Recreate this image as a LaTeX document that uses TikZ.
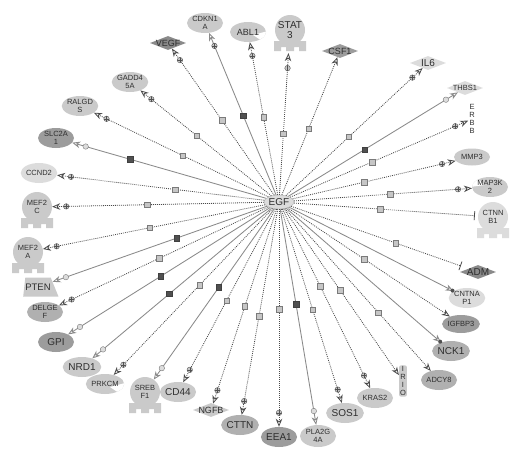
\documentclass[tikz,border=0pt]{standalone}
\usepackage{fontspec}
\setmainfont{Liberation Sans}
\usetikzlibrary{arrows.meta, shapes.geometric, calc, decorations.markings}
\definecolor{genepale}{HTML}{DCDCDC}
\definecolor{genelight}{HTML}{CACACA}
\definecolor{genemid}{HTML}{B0B0B0}
\definecolor{genedark}{HTML}{9C9C9C}
\definecolor{genedeep}{HTML}{8A8A8A}
\definecolor{labeltext}{HTML}{2E2E2E}
\definecolor{solidgray}{HTML}{8A8A8A}
\definecolor{dotgray}{HTML}{4A4A4A}
\definecolor{markdark}{HTML}{505050}
\definecolor{marklight}{HTML}{C6C6C6}
\definecolor{markline}{HTML}{7A7A7A}
\newcommand{\genebig}{\fontsize{10}{10.5}\selectfont}
\newcommand{\genemidfont}{\fontsize{9}{10}\selectfont}
\newcommand{\genesmall}{\fontsize{7.5}{8.3}\selectfont}
\newcommand{\dmtext}[1]{\makebox[0pt]{\raisebox{-0.5\height}[0pt][0pt]{#1}}}

\begin{document}
\begin{tikzpicture}[
    x=1pt, y=-1pt,
    >={Stealth[open, length=8pt, width=6.5pt, inset=2.5pt]},
    every node/.style={text=labeltext},
    gene/.style={ellipse, fill=#1, minimum width=36pt, minimum height=20pt,
        inner sep=0pt, align=center, font=\genesmall},
    gene/.default=genelight,
    kinase/.style={gene=#1, path picture={\fill[white]
        ($(path picture bounding box.center)+(5,3)$) -- ++(15,-4) -- ++(0,14) -- cycle;}},
    kinaseflip/.style={gene=#1, path picture={\fill[white]
        ($(path picture bounding box.center)+(-5,-2)$) -- ++(-15,2) -- ++(0,-14) -- cycle;}},
    ligand/.style={diamond, fill=#1, minimum width=36pt, minimum height=14pt,
        inner sep=0pt, font=\genemidfont},
    tfreg/.style={circle, fill=#1, minimum size=30pt, inner sep=0pt,
        align=center, font=\genesmall},
    phos/.style={trapezium, trapezium left angle=72, trapezium right angle=40,
        trapezium stretches=true, fill=#1, minimum height=19pt,
        inner sep=0pt, font=\fontsize{9.5}{10}\selectfont},
    vlabel/.style={rectangle, inner sep=1pt, align=center, font=\fontsize{7.5}{8}\selectfont},
    hub/.style={ellipse, fill=genepale, draw=markline!60, line width=0.4pt,
        minimum width=30pt, minimum height=14pt, inner sep=0pt, font=\genebig},
    solidedge/.style={->, solidgray, line width=0.85pt},
    dotedge/.style={->, dotgray, line width=0.8pt, dash pattern=on 0.9pt off 1.1pt},
    inhib/.style={-{Bar[width=9pt, line width=0.8pt]}},
    sqlight/.style={rectangle, solid, draw=markline, fill=marklight, line width=0.4pt,
        minimum size=5.5pt, inner sep=0pt},
    sqdark/.style={sqlight, fill=markdark, draw=markdark!80!black},
    plusmark/.style={circle, solid, draw=markdark, fill=marklight, line width=0.4pt,
        minimum size=5.5pt, inner sep=0pt, path picture={\draw[-, solid, markdark, line width=0.35pt]
        (path picture bounding box.north) -- (path picture bounding box.south)
        (path picture bounding box.west) -- (path picture bounding box.east);}},
    ringmark/.style={circle, solid, draw=markline, fill=genepale, line width=0.4pt,
        minimum size=5.5pt, inner sep=0pt},
    dotmark/.style={circle, solid, fill=markdark, minimum size=4pt, inner sep=0pt},
    plusend/.style={postaction={decorate, decoration={markings,
        mark=at position -#1 with {\node[plusmark] {};}}}},
    plusend/.default=14pt,
    ringend/.style={postaction={decorate, decoration={markings,
        mark=at position -14pt with {\node[ringmark] {};}}}},
    dotend/.style={postaction={decorate, decoration={markings,
        mark=at position -1pt with {\node[dotmark] {};}}}},
]
\path[use as bounding box, fill=white] (0,0) rectangle (520,458);

% === Hub ===
\node[hub] (egf) at (279,202) {EGF};

% === Upper arc ===
\node[gene] (cdkn1a) at (205,23) {CDKN1\\A};
\node[ligand=genedeep] (vegf) at (168,43) {\dmtext{VEGF}};
\node[kinase=genelight, font=\genemidfont] (abl1) at (248,32) {ABL1};
\node[tfreg=genelight, font=\genebig] (stat3) at (290,30) {STAT\\3};
\node[ligand=genedark] (csf1) at (340,51) {\dmtext{CSF1}};
\node[ligand=genepale, font=\genebig] (il6) at (428,63) {\dmtext{IL6}};
\node[ligand=genepale, font=\genesmall] (thbs1) at (465,88) {\dmtext{THBS1}};
\node[gene] (gadd45a) at (130,82) {GADD4\\5A};
\node[gene] (ralgds) at (80,106) {RALGD\\S};

% === Right side ===
\node[vlabel] (erbb) at (472,119) {E\\R\\B\\B};
\node[gene, minimum height=17pt] (mmp3) at (472,157) {MMP3};
\node[kinaseflip=genelight] (map3k2) at (490,187) {MAP3K\\2};
\node[tfreg=genepale] (ctnnb1) at (493,217) {CTNN\\B1};
\node[ligand=genedeep, font=\genebig] (adm) at (478,272) {\dmtext{ADM}};
\node[gene=genepale] (cntnap1) at (467,298) {CNTNA\\P1};
\node[gene=genedark, minimum height=18pt] (igfbp3) at (461,324) {IGFBP3};
\node[gene=genemid, font=\genebig] (nck1) at (451,351) {NCK1};
\node[gene=genemid] (adcy8) at (439,380) {ADCY8};

% === Lower arc ===
\node[vlabel, fill=genelight, rounded corners=2pt] (irio) at (403,381) {I\\R\\I\\O};
\node[gene] (kras2) at (375,398) {KRAS2};
\node[gene, font=\genebig] (sos1) at (345,413) {SOS1};
\node[gene, minimum height=22pt] (pla2g4a) at (318,436) {PLA2G\\4A};
\node[gene=genedark, font=\genebig] (eea1) at (279,437) {EEA1};
\node[gene=genemid, font=\genebig] (cttn) at (240,425) {CTTN};
\node[ligand=genelight] (ngfb) at (211,410) {\dmtext{NGFB}};
\node[gene, font=\genebig] (cd44) at (178,392) {CD44};
\node[tfreg=genelight] (srebf1) at (145,392) {SREB\\F1};
\node[gene, font=\genebig] (nrd1) at (82,367) {NRD1};
\node[kinase=genelight] (prkcm) at (105,384) {PRKCM};

% === Left side ===
\node[gene=genedark, font=\genebig] (gpi) at (56,342) {GPI};
\node[gene=genemid] (delgef) at (45,312) {DELGE\\F};
\node[phos=genelight] (pten) at (38,287) {PTEN};
\node[tfreg=genelight] (mef2a) at (28,252) {MEF2\\A};
\node[tfreg=genelight] (mef2c) at (37,207) {MEF2\\C};
\node[gene=genepale] (ccnd2) at (39,173) {CCND2};
\node[gene=genedark] (slc2a1) at (56,138) {SLC2A\\1};

% feet of the transcription regulators
\foreach \tf/\col in {stat3/genelight, mef2c/genelight, mef2a/genelight,
                      srebf1/genelight, ctnnb1/genepale}
    \fill[\col] ($(\tf.center)+(-16,11)$) -- ++(32,0) -- ++(0,10) -- ++(-7,0)
        -- ++(0,-4) -- ++(-5,0) -- ++(0,4) -- ++(-8,0) -- ++(0,-4) -- ++(-5,0)
        -- ++(0,4) -- ++(-7,0) -- cycle;

% === Edges, upper arc ===
\draw[dotedge, plusend] (egf) -- (vegf) node[sqlight, pos=0.51] {};
\draw[solidedge, plusend] (egf) -- (cdkn1a) node[sqdark, pos=0.49] {};
\draw[dotedge, plusend] (egf) -- (abl1) node[sqlight, pos=0.51] {};
\draw[dotedge, plusend=23pt, shorten >=8pt] (egf) -- (stat3) node[sqlight, pos=0.41] {};
\draw[dotedge] (egf) -- (csf1) node[sqlight, pos=0.48] {};
\draw[dotedge, plusend] (egf) -- (il6) node[sqlight, pos=0.46] {};
\draw[solidedge, ringend] (egf) -- (thbs1) node[sqdark, pos=0.45] {};
\draw[dotedge, plusend] (egf) -- (gadd45a) node[sqlight, pos=0.57] {};
\draw[dotedge, plusend] (egf) -- (ralgds) node[sqlight, pos=0.49] {};

% === Edges, right side ===
\draw[dotedge, plusend] (egf) -- (erbb) node[sqlight, pos=0.46] {};
\draw[dotedge, plusend] (egf) -- (mmp3) node[sqlight, pos=0.44] {};
\draw[dotedge, plusend] (egf) -- (map3k2) node[sqlight, pos=0.54] {};
\draw[dotedge, inhib, shorten >=3pt] (egf) -- (ctnnb1) node[sqlight, pos=0.47] {};
\draw[dotedge, inhib, shorten >=8pt] (egf) -- (adm) node[sqlight, pos=0.59] {};
\draw[solidedge, dotend] (egf) -- (cntnap1);
\draw[dotedge] (egf) -- (igfbp3) node[sqlight, pos=0.47] {};
\draw[solidedge, dotend] (egf) -- (nck1);
\draw[dotedge] (egf) -- (adcy8) node[sqlight, pos=0.64] {};

% === Edges, lower arc ===
\draw[dotedge] (egf) -- (irio) node[sqlight, pos=0.49] {};
\draw[dotedge, plusend] (egf) -- (kras2) node[sqlight, pos=0.43] {};
\draw[dotedge, plusend] (egf) -- (sos1) node[sqlight, pos=0.52] {};
\draw[solidedge, ringend] (egf) -- (pla2g4a) node[sqdark, pos=0.44] {};
\draw[dotedge, plusend] (egf) -- (eea1) node[sqlight, pos=0.46] {};
\draw[dotedge, plusend] (egf) -- (cttn) node[sqlight, pos=0.52] {};
\draw[dotedge, plusend] (egf) -- (ngfb) node[sqlight, pos=0.50] {};
\draw[dotedge, plusend] (egf) -- (cd44) node[sqlight, pos=0.53] {};
\draw[solidedge, ringend] (egf) -- (srebf1) node[sqdark, pos=0.46] {};
\draw[dotedge, plusend] (egf) -- (prkcm) node[sqlight, pos=0.46] {};
\draw[solidedge, ringend] (egf) -- (nrd1) node[sqdark, pos=0.57] {};

% === Edges, left side ===
\draw[solidedge, ringend] (egf) -- (gpi) node[sqdark, pos=0.54] {};
\draw[dotedge, plusend] (egf) -- (delgef) node[sqlight, pos=0.52] {};
\draw[solidedge, ringend] (egf) -- (pten) node[sqdark, pos=0.42] {};
\draw[dotedge, plusend] (egf) -- (mef2a) node[sqlight, pos=0.52] {};
\draw[dotedge, plusend] (egf) -- (mef2c) node[sqlight, pos=0.55] {};
\draw[dotedge, plusend] (egf) -- (ccnd2) node[sqlight, pos=0.43] {};
\draw[solidedge, ringend] (egf) -- (slc2a1) node[sqdark, pos=0.70] {};

\end{tikzpicture}
\end{document}
